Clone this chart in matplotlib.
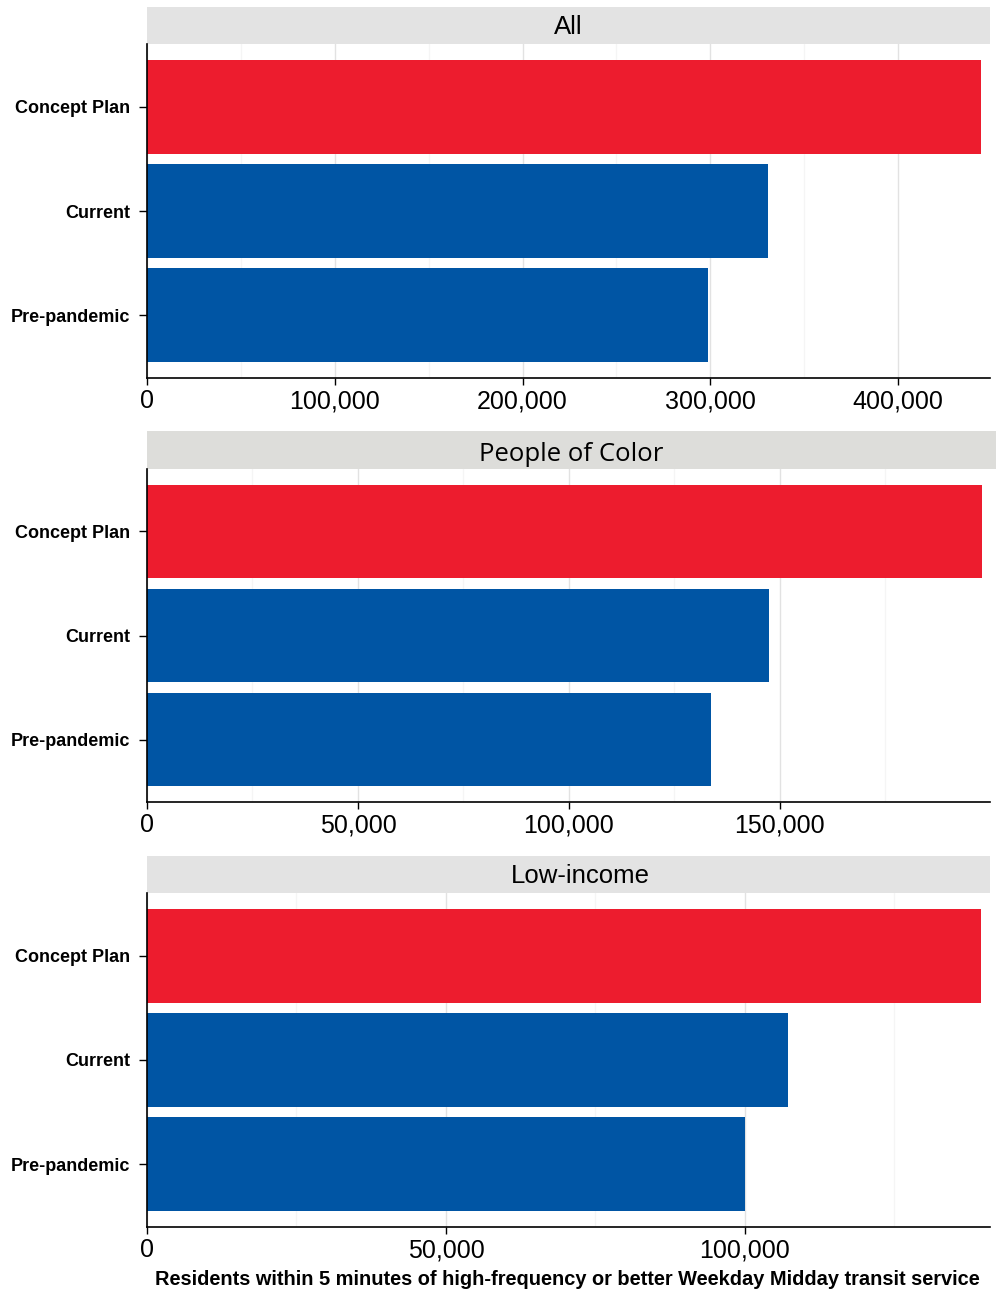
import matplotlib.pyplot as plt
from matplotlib.ticker import FuncFormatter, MultipleLocator

# scenarios, top to bottom
scenarios = ['Concept Plan', 'Current', 'Pre-pandemic']
bar_colors = ['#ED1C2E', '#0055A4', '#0055A4']

# residents within 5 minutes of frequent service
all_residents = [444000, 331000, 299000]
poc_residents = [198000, 147500, 133700]
low_income_residents = [139500, 107200, 100100]

panel_titles = ['All', 'People of Color', 'Low-income']
panel_values = [all_residents, poc_residents, low_income_residents]
x_max = [449000, 199800, 141000]
major_step = [100000, 50000, 50000]

xlabel = 'Residents within 5 minutes of high-frequency or better Weekday Midday transit service'

W, H = 996, 1289
fig = plt.figure(figsize=(W / 100, H / 100), dpi=100)

# pixel layout: (strip top, axes top, axes bottom, strip right)
layout = [(7, 44, 378, 990), (431, 469, 802, 996), (856, 893, 1227, 990)]
left_px, right_px = 147, 990

fmt = FuncFormatter(lambda v, p: f'{int(v):,}')

for i, (title, vals) in enumerate(zip(panel_titles, panel_values)):
    s_top, a_top, a_bot, s_right = layout[i]

    # grey header strip
    sax = fig.add_axes([left_px / W, 1 - a_top / H, (s_right - left_px) / W, (a_top - s_top) / H])
    sax.set_facecolor('#DDDDDA' if i == 1 else '#E3E3E3')
    sax.set_xticks([])
    sax.set_yticks([])
    for sp in sax.spines.values():
        sp.set_visible(False)
    if i == 1:
        sax.text(0.5, 0.38, title, ha='center', va='center', fontsize=18.5,
                 family='Open Sans', transform=sax.transAxes)
    else:
        sax.text(0.5 if i == 0 else 0.514, 0.45, title, ha='center', va='center',
                 fontsize=18.5, family='Liberation Sans', transform=sax.transAxes)

    ax = fig.add_axes([left_px / W, 1 - a_bot / H, (right_px - left_px) / W, (a_bot - a_top) / H])
    ypos = list(range(len(scenarios)))
    ax.barh(ypos, vals, height=0.9, color=bar_colors, zorder=2)
    ax.set_ylim(len(scenarios) - 0.4, -0.6)
    ax.set_xlim(0, x_max[i])
    ax.set_yticks(ypos)
    ax.set_yticklabels(scenarios, fontsize=13, fontweight='bold', family='Liberation Sans')
    ax.xaxis.set_major_locator(MultipleLocator(major_step[i]))
    ax.xaxis.set_minor_locator(MultipleLocator(major_step[i] / 2))
    ax.xaxis.set_major_formatter(fmt)
    for lab in ax.get_xticklabels():
        lab.set_family('Liberation Sans')
        lab.set_fontsize(18)
    ax.tick_params(axis='x', which='major', length=5, width=1, pad=3)
    ax.tick_params(axis='x', which='minor', length=0)
    ax.tick_params(axis='y', length=6, width=1, pad=6)
    ax.grid(axis='x', which='major', color='#E2E2E2', linewidth=1, zorder=0)
    ax.grid(axis='x', which='minor', color='#F5F5F5', linewidth=1, zorder=0)
    ax.set_axisbelow(True)
    for side in ['top', 'right']:
        ax.spines[side].set_visible(False)
    for side in ['left', 'bottom']:
        ax.spines[side].set_color('black')
        ax.spines[side].set_linewidth(1.2)

    if i == 2:
        ax.set_xlabel(xlabel, fontsize=14.4, fontweight='bold', family='Liberation Sans', labelpad=6)
        ax.xaxis.set_label_coords((567.5 - left_px) / (right_px - left_px), -0.13)

fig.savefig('out.png', dpi=100)
